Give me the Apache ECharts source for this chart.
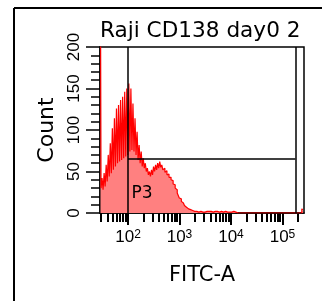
<!DOCTYPE html>
<html>
<head>
<meta charset="utf-8">
<script src="https://cdn.jsdelivr.net/npm/echarts@6/dist/echarts.min.js"></script>
<style>
  html, body { margin: 0; padding: 0; background: #fff; }
  #main { width: 322px; height: 301px; }
</style>
</head>
<body>
<div id="main"></div>
<script>
// histogram of FITC-A, x in log10 units (display decades)
const titleText = 'Raji CD138 day0 2';
const xName = 'FITC-A';
const yName = 'Count';
const xMin = 1.456;
const xMax = 5.418;
const binStart = 1.456;
const binWidth = 0.04;   // each bin holds two channels (comb artifact at low end)
const decadeTicks = [2, 3, 4, 5];

// upper channel of every bin
const peakCounts = [
  250, 42, 48, 58, 70, 84, 102, 114, 126, 130,
  136, 140, 146, 150, 156, 150, 132, 114, 98, 82,
  74, 66, 60, 54, 50, 52, 56, 58, 60, 62,
  58, 54, 51, 47, 43, 39, 34, 28, 21, 17,
  12, 9, 7, 5, 4, 3, 3, 2, 2, 2,
  2, 2, 3, 4, 2, 2, 3, 2, 2, 2,
  3, 2, 1, 2, 3, 1, 1, 0, 1, 0,
  0, 1, 0, 0, 0, 0, 0, 0, 0, 0,
  1, 0, 0, 0, 0, 0, 0, 0, 0, 0,
  0, 0, 0, 0, 0, 0, 0, 0, 5
];
// lower channel of every bin
const dipCounts = [
  30, 28, 32, 38, 44, 48, 52, 56, 60, 62,
  64, 66, 68, 70, 74, 76, 74, 70, 64, 60,
  56, 54, 50, 46, 44, 46, 50, 52, 54, 55,
  52, 49, 46, 43, 40, 35, 30, 24, 18, 14,
  10, 7, 5, 4, 3, 2, 2, 1, 2, 1,
  1, 2, 2, 2, 1, 2, 2, 1, 2, 1,
  2, 1, 1, 1, 2, 1, 0, 0, 0, 0,
  0, 0, 0, 0, 0, 0, 0, 0, 0, 0,
  0, 0, 0, 0, 0, 0, 0, 0, 0, 0,
  0, 0, 0, 0, 0, 0, 0, 0, 4
];

// gate P3
const gateName = 'P3';
const gateLow = 2;
const gateHigh = 5.25;
const gateLevel = 65;
const gateLabelAt = [2.27, 24];

var channels = [];
for (var i = 0; i < peakCounts.length; i++) {
  channels.push([binStart + (i + 0.25) * binWidth, peakCounts[i]]);
  channels.push([binStart + (i + 0.75) * binWidth, dipCounts[i]]);
}

// log minor ticks 2..9 x 10^n
var minorTicks = [];
for (var n = 1; n <= 5; n++) {
  for (var k = 2; k <= 9; k++) {
    var t = Math.log10(k * Math.pow(10, n));
    if (t > xMin && t < xMax) minorTicks.push(t);
  }
}

var font = 'DejaVu Sans';
var chart = echarts.init(document.getElementById('main'), null, { renderer: 'canvas' });

var option = {
  animation: false,
  backgroundColor: '#fff',
  title: {
    text: titleText,
    left: 100,
    top: 20,
    padding: 0,
    textStyle: { fontFamily: font, fontSize: 21.6, fontWeight: 'normal', color: '#000' }
  },
  grid: {
    left: 100, top: 47, right: 18, bottom: 88,
    show: true, borderColor: '#000', borderWidth: 1.5, backgroundColor: 'transparent'
  },
  xAxis: [{
    type: 'value',
    min: xMin,
    max: xMax,
    position: 'bottom',
    name: xName,
    nameLocation: 'middle',
    nameGap: 52,
    nameTextStyle: { fontFamily: font, fontSize: 21, color: '#000' },
    axisLine: { show: true, lineStyle: { color: '#000', width: 1.5 } },
    axisTick: { show: true, length: 12, customValues: decadeTicks, lineStyle: { color: '#000', width: 2 } },
    axisLabel: {
      customValues: decadeTicks,
      margin: 16,
      formatter: function (v) { return '{b|10}{s|' + v + '}'; },
      rich: {
        b: { fontFamily: 'Liberation Sans', fontSize: 17, color: '#000' },
        s: { fontFamily: 'Liberation Sans', fontSize: 12, color: '#000', verticalAlign: 'top' }
      }
    },
    splitLine: { show: false }
  }, {
    type: 'value',
    min: xMin,
    max: xMax,
    position: 'bottom',
    axisLine: { show: false },
    axisTick: { show: true, length: 9, customValues: minorTicks, lineStyle: { color: '#000', width: 2 } },
    axisLabel: { show: false },
    splitLine: { show: false }
  }],
  yAxis: {
    type: 'value',
    min: 0,
    max: 200,
    interval: 50,
    name: yName,
    nameLocation: 'middle',
    nameRotate: 90,
    nameGap: 40,
    nameTextStyle: { fontFamily: font, fontSize: 22, color: '#000' },
    axisLine: { show: true, lineStyle: { color: '#000', width: 1.5 } },
    axisTick: { show: true, length: 14, lineStyle: { color: '#000', width: 1.5 } },
    minorTick: { show: true, splitNumber: 5, length: 9, lineStyle: { color: '#000', width: 1.5 } },
    axisLabel: {
      rotate: 90,
      margin: 17,
      fontFamily: 'Liberation Sans',
      fontSize: 17,
      color: '#000'
    },
    splitLine: { show: false }
  },
  series: [{
    name: 'Count',
    type: 'line',
    xAxisIndex: 0,
    step: 'middle',
    symbol: 'none',
    clip: true,
    data: channels,
    lineStyle: { color: '#ff0000', width: 1.2 },
    areaStyle: { color: '#ff8080', opacity: 1 },
    markLine: {
      silent: true,
      symbol: ['none', 'none'],
      label: { show: false },
      lineStyle: { color: '#000', type: 'solid', width: 1.5 },
      data: [
        { xAxis: gateLow },
        { xAxis: gateHigh },
        [{ coord: [gateLow, gateLevel] }, { coord: [gateHigh, gateLevel] }]
      ]
    },
    markPoint: {
      silent: true,
      symbolSize: 0,
      label: { show: true, formatter: gateName, fontFamily: font, fontSize: 17, color: '#000' },
      data: [{ coord: gateLabelAt }]
    }
  }],
  graphic: [
    { type: 'line', shape: { x1: 14, y1: 8, x2: 14, y2: 301 }, style: { stroke: '#000', lineWidth: 2 } },
    { type: 'line', shape: { x1: 14, y1: 8, x2: 322, y2: 8 }, style: { stroke: '#000', lineWidth: 2 } }
  ]
};
chart.setOption(option);
</script>
</body>
</html>
